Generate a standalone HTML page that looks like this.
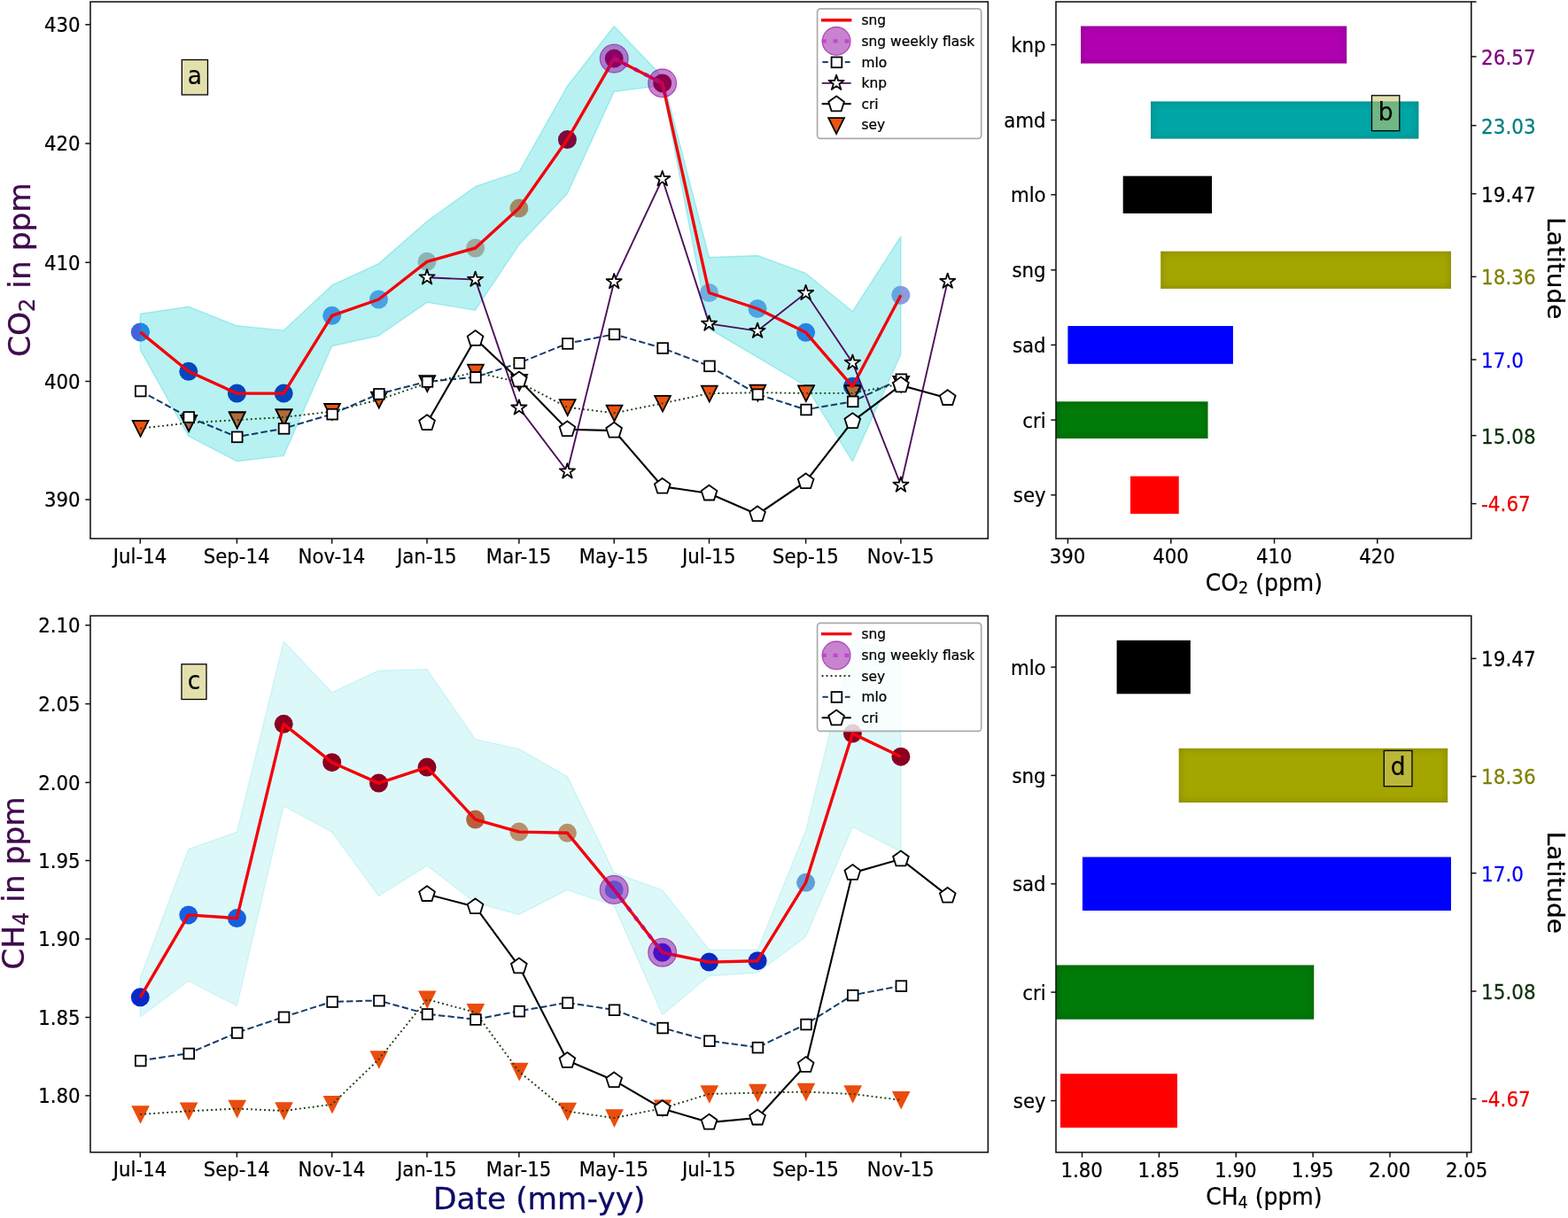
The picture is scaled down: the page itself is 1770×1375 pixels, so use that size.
<!DOCTYPE html>
<html lang="en">
<head>
<meta charset="utf-8">
<title>CO2 and CH4 time series</title>
<style>
html,body{margin:0;padding:0;background:#fff;}
body{width:1770px;height:1375px;overflow:hidden;}
svg{display:block;}
svg text{font-family:"DejaVu Sans", "Liberation Sans", sans-serif;}
</style>
</head>
<body>
<svg width="1770" height="1375" viewBox="0 0 1770 1375">
<defs>
<clipPath id="bandA"><polygon points="158.3,354.2 212.8,346.1 267.4,367.8 320.2,372.9 374.7,322.0 427.5,297.6 482.0,249.8 536.6,210.5 585.9,193.9 640.4,97.3 693.2,29.5 747.7,86.4 800.5,290.5 855.1,288.5 909.6,308.5 962.4,351.5 1016.9,266.8 1016.9,400.0 962.4,521.0 909.6,435.6 855.1,403.4 800.5,371.2 747.7,96.6 693.2,103.4 640.4,218.6 585.9,276.3 536.6,350.2 482.0,341.4 427.5,379.0 374.7,390.8 320.2,514.6 267.4,520.7 212.8,492.5 158.3,394.9"/></clipPath>
<clipPath id="haloA"><circle cx="693.2" cy="66.1" r="15.9"/><circle cx="747.7" cy="93.9" r="15.9"/></clipPath>
<clipPath id="bandC"><polygon points="158.3,1103.4 212.8,958.6 267.4,939.3 320.2,724.1 374.7,781.7 427.5,757.0 482.0,755.6 536.6,834.6 585.9,845.4 640.4,876.6 693.2,985.1 747.7,1004.7 800.5,1072.2 855.1,1072.2 909.6,937.6 962.4,722.4 1016.9,735.6 1016.9,961.4 962.4,933.6 909.6,1057.6 855.1,1098.3 800.5,1101.7 747.7,1145.8 693.2,1022.4 640.4,1004.7 585.9,1032.5 536.6,1019.0 482.0,977.3 427.5,1011.5 374.7,939.3 320.2,909.8 267.4,1135.6 212.8,1107.5 158.3,1148.1"/></clipPath>
<clipPath id="haloC"><circle cx="693.2" cy="1004.4" r="15.9"/><circle cx="747.7" cy="1075.3" r="15.9"/></clipPath>
<filter id="inner" x="-5%" y="-20%" width="110%" height="140%" color-interpolation-filters="sRGB"><feComponentTransfer in="SourceAlpha" result="inv"><feFuncA type="table" tableValues="1 0"/></feComponentTransfer><feGaussianBlur in="inv" stdDeviation="5" result="blur"/><feFlood flood-color="#000" flood-opacity="0.2" result="col"/><feComposite in="col" in2="blur" operator="in" result="shadow"/><feComposite in="shadow" in2="SourceAlpha" operator="in" result="clipped"/><feMerge><feMergeNode in="SourceGraphic"/><feMergeNode in="clipped"/></feMerge></filter>
<clipPath id="clipA"><rect x="102" y="2" width="1013.3" height="606.0"/></clipPath>
<clipPath id="clipC"><rect x="102" y="695.2" width="1013.3" height="605.6"/></clipPath>
</defs>
<rect width="1770" height="1375" fill="#ffffff"/>
<g clip-path="url(#clipA)">
<polygon points="158.3,354.2 212.8,346.1 267.4,367.8 320.2,372.9 374.7,322.0 427.5,297.6 482.0,249.8 536.6,210.5 585.9,193.9 640.4,97.3 693.2,29.5 747.7,86.4 800.5,290.5 855.1,288.5 909.6,308.5 962.4,351.5 1016.9,266.8 1016.9,400.0 962.4,521.0 909.6,435.6 855.1,403.4 800.5,371.2 747.7,96.6 693.2,103.4 640.4,218.6 585.9,276.3 536.6,350.2 482.0,341.4 427.5,379.0 374.7,390.8 320.2,514.6 267.4,520.7 212.8,492.5 158.3,394.9" fill="#00ced1" fill-opacity="0.28" stroke="#00ced1" stroke-opacity="0.28" stroke-width="1.4" stroke-linejoin="round"/>
<circle cx="693.2" cy="66.1" r="15.9" fill="#9208a0" fill-opacity="0.5" stroke="#9208a0" stroke-opacity="0.62" stroke-width="1.3"/>
<circle cx="747.7" cy="93.9" r="15.9" fill="#9208a0" fill-opacity="0.5" stroke="#9208a0" stroke-opacity="0.62" stroke-width="1.3"/>
<circle cx="158.3" cy="374.9" r="10.5" fill="#4064dc"/>
<g clip-path="url(#bandA)">
<circle cx="158.3" cy="374.9" r="10.5" fill="#2388e0"/>
</g>
<circle cx="212.8" cy="419.3" r="10.5" fill="#0548bb"/>
<circle cx="267.4" cy="444.1" r="10.5" fill="#0445bb"/>
<circle cx="320.2" cy="444.1" r="10.5" fill="#0445bb"/>
<circle cx="374.7" cy="356.3" r="10.5" fill="#3a98e2"/>
<circle cx="427.5" cy="338.0" r="10.5" fill="#4aa2e0"/>
<circle cx="482.0" cy="295.3" r="10.5" fill="#8ab4b2"/>
<circle cx="536.6" cy="280.0" r="10.5" fill="#9aaba0"/>
<circle cx="585.9" cy="235.1" r="10.5" fill="#a08a68"/>
<circle cx="640.4" cy="157.6" r="10.5" fill="#7c0a3c"/>
<circle cx="693.2" cy="66.1" r="10.5" fill="#8b0068"/>
<circle cx="747.7" cy="93.9" r="10.5" fill="#8b0050"/>
<circle cx="800.5" cy="330.5" r="10.5" fill="#6cb0e0"/>
<circle cx="855.1" cy="348.5" r="10.5" fill="#4ca4e2"/>
<circle cx="909.6" cy="375.3" r="10.5" fill="#2484e4"/>
<circle cx="962.4" cy="436.3" r="10.5" fill="#0a50d0"/>
<circle cx="1016.9" cy="333.2" r="10.5" fill="#8c9cdc"/>
<g clip-path="url(#bandA)">
<circle cx="1016.9" cy="333.2" r="10.5" fill="#62a8e0"/>
</g>
<polygon points="149.7,475.0 167.5,475.0 158.6,492.8" fill="#ee5312" stroke="#000" stroke-width="1.8" stroke-linejoin="miter"/>
<polygon points="204.2,468.9 222.0,468.9 213.1,486.7" fill="#ee5312" stroke="#000" stroke-width="1.8" stroke-linejoin="miter"/>
<polygon points="258.8,465.5 276.6,465.5 267.7,483.3" fill="#ee5312" stroke="#000" stroke-width="1.8" stroke-linejoin="miter"/>
<polygon points="311.6,462.4 329.4,462.4 320.5,480.2" fill="#ee5312" stroke="#000" stroke-width="1.8" stroke-linejoin="miter"/>
<polygon points="366.1,456.0 383.9,456.0 375.0,473.8" fill="#ee5312" stroke="#000" stroke-width="1.8" stroke-linejoin="miter"/>
<polygon points="418.9,442.7 436.7,442.7 427.8,460.5" fill="#ee5312" stroke="#000" stroke-width="1.8" stroke-linejoin="miter"/>
<polygon points="473.4,424.1 491.2,424.1 482.3,441.9" fill="#ee5312" stroke="#000" stroke-width="1.8" stroke-linejoin="miter"/>
<polygon points="528.0,411.6 545.8,411.6 536.9,429.4" fill="#ee5312" stroke="#000" stroke-width="1.8" stroke-linejoin="miter"/>
<polygon points="577.3,422.9 595.1,422.9 586.2,440.7" fill="#ee5312" stroke="#000" stroke-width="1.8" stroke-linejoin="miter"/>
<polygon points="631.8,451.2 649.6,451.2 640.7,469.0" fill="#ee5312" stroke="#000" stroke-width="1.8" stroke-linejoin="miter"/>
<polygon points="684.6,457.7 702.4,457.7 693.5,475.5" fill="#ee5312" stroke="#000" stroke-width="1.8" stroke-linejoin="miter"/>
<polygon points="739.1,446.8 756.9,446.8 748.0,464.6" fill="#ee5312" stroke="#000" stroke-width="1.8" stroke-linejoin="miter"/>
<polygon points="791.9,435.6 809.7,435.6 800.8,453.4" fill="#ee5312" stroke="#000" stroke-width="1.8" stroke-linejoin="miter"/>
<polygon points="846.5,434.6 864.3,434.6 855.4,452.4" fill="#ee5312" stroke="#000" stroke-width="1.8" stroke-linejoin="miter"/>
<polygon points="901.0,435.3 918.8,435.3 909.9,453.1" fill="#ee5312" stroke="#000" stroke-width="1.8" stroke-linejoin="miter"/>
<polygon points="953.8,435.3 971.6,435.3 962.7,453.1" fill="#ee5312" stroke="#000" stroke-width="1.8" stroke-linejoin="miter"/>
<polygon points="1008.3,424.8 1026.1,424.8 1017.2,442.6" fill="#ee5312" stroke="#000" stroke-width="1.8" stroke-linejoin="miter"/>
<g clip-path="url(#bandA)">
<polygon points="149.7,475.0 167.5,475.0 158.6,492.8" fill="#b26c3c" stroke="#000" stroke-width="1.8" stroke-linejoin="miter"/>
<polygon points="204.2,468.9 222.0,468.9 213.1,486.7" fill="#b26c3c" stroke="#000" stroke-width="1.8" stroke-linejoin="miter"/>
<polygon points="258.8,465.5 276.6,465.5 267.7,483.3" fill="#b26c3c" stroke="#000" stroke-width="1.8" stroke-linejoin="miter"/>
<polygon points="311.6,462.4 329.4,462.4 320.5,480.2" fill="#b26c3c" stroke="#000" stroke-width="1.8" stroke-linejoin="miter"/>
<polygon points="366.1,456.0 383.9,456.0 375.0,473.8" fill="#b26c3c" stroke="#000" stroke-width="1.8" stroke-linejoin="miter"/>
<polygon points="418.9,442.7 436.7,442.7 427.8,460.5" fill="#b26c3c" stroke="#000" stroke-width="1.8" stroke-linejoin="miter"/>
<polygon points="473.4,424.1 491.2,424.1 482.3,441.9" fill="#b26c3c" stroke="#000" stroke-width="1.8" stroke-linejoin="miter"/>
<polygon points="528.0,411.6 545.8,411.6 536.9,429.4" fill="#b26c3c" stroke="#000" stroke-width="1.8" stroke-linejoin="miter"/>
<polygon points="577.3,422.9 595.1,422.9 586.2,440.7" fill="#b26c3c" stroke="#000" stroke-width="1.8" stroke-linejoin="miter"/>
<polygon points="631.8,451.2 649.6,451.2 640.7,469.0" fill="#b26c3c" stroke="#000" stroke-width="1.8" stroke-linejoin="miter"/>
<polygon points="684.6,457.7 702.4,457.7 693.5,475.5" fill="#b26c3c" stroke="#000" stroke-width="1.8" stroke-linejoin="miter"/>
<polygon points="739.1,446.8 756.9,446.8 748.0,464.6" fill="#b26c3c" stroke="#000" stroke-width="1.8" stroke-linejoin="miter"/>
<polygon points="791.9,435.6 809.7,435.6 800.8,453.4" fill="#b26c3c" stroke="#000" stroke-width="1.8" stroke-linejoin="miter"/>
<polygon points="846.5,434.6 864.3,434.6 855.4,452.4" fill="#b26c3c" stroke="#000" stroke-width="1.8" stroke-linejoin="miter"/>
<polygon points="901.0,435.3 918.8,435.3 909.9,453.1" fill="#b26c3c" stroke="#000" stroke-width="1.8" stroke-linejoin="miter"/>
<polygon points="953.8,435.3 971.6,435.3 962.7,453.1" fill="#b26c3c" stroke="#000" stroke-width="1.8" stroke-linejoin="miter"/>
<polygon points="1008.3,424.8 1026.1,424.8 1017.2,442.6" fill="#b26c3c" stroke="#000" stroke-width="1.8" stroke-linejoin="miter"/>
</g>
<polyline points="693.2,66.1 747.7,93.9" fill="none" stroke="#c03cd0" stroke-width="4.4" stroke-dasharray="5 7.8" stroke-opacity="0.85"/>
<polyline points="158.3,374.9 212.8,419.3 267.4,444.1 320.2,444.1 374.7,356.3 427.5,338.0 482.0,295.3 536.6,280.0 585.9,235.1 640.4,157.6 693.2,66.1 747.7,93.9 800.5,330.5 855.1,348.5 909.6,375.3 962.4,436.3 1016.9,333.2" fill="none" stroke="#f4000a" stroke-width="3.4" stroke-linejoin="round"/>
<g clip-path="url(#haloA)">
<polyline points="640.4,157.6 693.2,66.1 747.7,93.9 800.5,330.5" fill="none" stroke="#c30455" stroke-width="3.4" stroke-linejoin="round"/>
</g>
<polyline points="693.2,66.1 747.7,93.9" fill="none" stroke="#a010b0" stroke-width="3.6" stroke-dasharray="5 7.8" stroke-opacity="0.5"/>
<polyline points="158.3,483.6 212.8,477.5 267.4,474.1 320.2,471.0 374.7,464.6 427.5,451.3 482.0,432.7 536.6,420.2 585.9,431.5 640.4,459.8 693.2,466.3 747.7,455.4 800.5,444.2 855.1,443.2 909.6,443.9 962.4,443.9 1016.9,433.4" fill="none" stroke="#143f0c" stroke-width="1.9" stroke-dasharray="1.9 3.1"/>
<polyline points="158.3,441.4 212.8,470.8 267.4,493.2 320.2,483.7 374.7,467.5 427.5,444.7 482.0,430.8 536.6,425.8 585.9,409.8 640.4,387.8 693.2,377.3 747.7,392.9 800.5,413.2 855.1,445.1 909.6,462.4 962.4,453.2 1016.9,428.1" fill="none" stroke="#123c6a" stroke-width="2.0" stroke-dasharray="7.4 3.2"/>
<rect x="152.9" y="435.7" width="11.7" height="11.7" fill="#fff" stroke="#000" stroke-width="1.8"/>
<rect x="207.4" y="465.1" width="11.7" height="11.7" fill="#fff" stroke="#000" stroke-width="1.8"/>
<rect x="261.9" y="487.5" width="11.7" height="11.7" fill="#fff" stroke="#000" stroke-width="1.8"/>
<rect x="314.7" y="478.0" width="11.7" height="11.7" fill="#fff" stroke="#000" stroke-width="1.8"/>
<rect x="369.3" y="461.8" width="11.7" height="11.7" fill="#fff" stroke="#000" stroke-width="1.8"/>
<rect x="422.1" y="439.0" width="11.7" height="11.7" fill="#fff" stroke="#000" stroke-width="1.8"/>
<rect x="476.6" y="425.1" width="11.7" height="11.7" fill="#fff" stroke="#000" stroke-width="1.8"/>
<rect x="531.1" y="420.1" width="11.7" height="11.7" fill="#fff" stroke="#000" stroke-width="1.8"/>
<rect x="580.4" y="404.1" width="11.7" height="11.7" fill="#fff" stroke="#000" stroke-width="1.8"/>
<rect x="635.0" y="382.1" width="11.7" height="11.7" fill="#fff" stroke="#000" stroke-width="1.8"/>
<rect x="687.7" y="371.6" width="11.7" height="11.7" fill="#fff" stroke="#000" stroke-width="1.8"/>
<rect x="742.3" y="387.2" width="11.7" height="11.7" fill="#fff" stroke="#000" stroke-width="1.8"/>
<rect x="795.1" y="407.5" width="11.7" height="11.7" fill="#fff" stroke="#000" stroke-width="1.8"/>
<rect x="849.6" y="439.4" width="11.7" height="11.7" fill="#fff" stroke="#000" stroke-width="1.8"/>
<rect x="904.2" y="456.7" width="11.7" height="11.7" fill="#fff" stroke="#000" stroke-width="1.8"/>
<rect x="956.9" y="447.5" width="11.7" height="11.7" fill="#fff" stroke="#000" stroke-width="1.8"/>
<rect x="1011.5" y="422.4" width="11.7" height="11.7" fill="#fff" stroke="#000" stroke-width="1.8"/>
<polyline points="482.0,313.2 536.6,315.6 585.9,460.3 640.4,532.2 693.2,318.0 747.7,202.0 800.5,365.4 855.1,373.6 909.6,330.8 962.4,409.5 1016.9,547.5 1069.7,317.6" fill="none" stroke="#4c0e5c" stroke-width="1.9"/>
<polygon points="482.0,304.2 484.1,310.4 490.6,310.4 485.3,314.3 487.3,320.5 482.0,316.6 476.8,320.5 478.8,314.3 473.5,310.4 480.0,310.4" stroke-linejoin="round" fill="#fff" stroke="#000" stroke-width="1.8"/>
<polygon points="536.6,306.6 538.6,312.8 545.2,312.8 539.9,316.7 541.9,322.9 536.6,319.0 531.3,322.9 533.3,316.7 528.0,312.8 534.6,312.8" stroke-linejoin="round" fill="#fff" stroke="#000" stroke-width="1.8"/>
<polygon points="585.9,451.3 587.9,457.5 594.4,457.5 589.1,461.4 591.1,467.6 585.9,463.7 580.6,467.6 582.6,461.4 577.3,457.5 583.8,457.5" stroke-linejoin="round" fill="#fff" stroke="#000" stroke-width="1.8"/>
<polygon points="640.4,523.2 642.4,529.4 649.0,529.4 643.7,533.3 645.7,539.5 640.4,535.6 635.1,539.5 637.1,533.3 631.8,529.4 638.4,529.4" stroke-linejoin="round" fill="#fff" stroke="#000" stroke-width="1.8"/>
<polygon points="693.2,309.0 695.2,315.2 701.7,315.2 696.5,319.1 698.5,325.3 693.2,321.4 687.9,325.3 689.9,319.1 684.6,315.2 691.2,315.2" stroke-linejoin="round" fill="#fff" stroke="#000" stroke-width="1.8"/>
<polygon points="747.7,193.0 749.8,199.2 756.3,199.2 751.0,203.1 753.0,209.3 747.7,205.4 742.4,209.3 744.5,203.1 739.2,199.2 745.7,199.2" stroke-linejoin="round" fill="#fff" stroke="#000" stroke-width="1.8"/>
<polygon points="800.5,356.4 802.5,362.6 809.1,362.6 803.8,366.5 805.8,372.7 800.5,368.8 795.2,372.7 797.2,366.5 792.0,362.6 798.5,362.6" stroke-linejoin="round" fill="#fff" stroke="#000" stroke-width="1.8"/>
<polygon points="855.1,364.6 857.1,370.8 863.6,370.8 858.3,374.7 860.4,380.9 855.1,377.0 849.8,380.9 851.8,374.7 846.5,370.8 853.0,370.8" stroke-linejoin="round" fill="#fff" stroke="#000" stroke-width="1.8"/>
<polygon points="909.6,321.8 911.6,328.0 918.2,328.0 912.9,331.9 914.9,338.1 909.6,334.2 904.3,338.1 906.3,331.9 901.0,328.0 907.6,328.0" stroke-linejoin="round" fill="#fff" stroke="#000" stroke-width="1.8"/>
<polygon points="962.4,400.5 964.4,406.7 971.0,406.7 965.7,410.6 967.7,416.8 962.4,412.9 957.1,416.8 959.1,410.6 953.8,406.7 960.4,406.7" stroke-linejoin="round" fill="#fff" stroke="#000" stroke-width="1.8"/>
<polygon points="1016.9,538.5 1019.0,544.7 1025.5,544.7 1020.2,548.6 1022.2,554.8 1016.9,550.9 1011.6,554.8 1013.7,548.6 1008.4,544.7 1014.9,544.7" stroke-linejoin="round" fill="#fff" stroke="#000" stroke-width="1.8"/>
<polygon points="1069.7,308.6 1071.7,314.8 1078.3,314.8 1073.0,318.7 1075.0,324.9 1069.7,321.0 1064.4,324.9 1066.5,318.7 1061.2,314.8 1067.7,314.8" stroke-linejoin="round" fill="#fff" stroke="#000" stroke-width="1.8"/>
<polyline points="482.0,477.6 536.6,382.4 585.9,428.8 640.4,484.7 693.2,486.1 747.7,549.2 800.5,557.0 855.1,580.7 909.6,543.7 962.4,475.6 1016.9,434.9 1069.7,449.5" fill="none" stroke="#000" stroke-width="2.1"/>
<polygon points="482.0,468.3 490.9,474.7 487.5,485.1 476.6,485.1 473.2,474.7" stroke-linejoin="miter" fill="#fff" stroke="#000" stroke-width="1.8"/>
<polygon points="536.6,373.1 545.4,379.5 542.1,389.9 531.1,389.9 527.7,379.5" stroke-linejoin="miter" fill="#fff" stroke="#000" stroke-width="1.8"/>
<polygon points="585.9,419.5 594.7,425.9 591.3,436.3 580.4,436.3 577.0,425.9" stroke-linejoin="miter" fill="#fff" stroke="#000" stroke-width="1.8"/>
<polygon points="640.4,475.4 649.2,481.8 645.9,492.2 634.9,492.2 631.6,481.8" stroke-linejoin="miter" fill="#fff" stroke="#000" stroke-width="1.8"/>
<polygon points="693.2,476.8 702.0,483.2 698.7,493.6 687.7,493.6 684.3,483.2" stroke-linejoin="miter" fill="#fff" stroke="#000" stroke-width="1.8"/>
<polygon points="747.7,539.9 756.6,546.3 753.2,556.7 742.3,556.7 738.9,546.3" stroke-linejoin="miter" fill="#fff" stroke="#000" stroke-width="1.8"/>
<polygon points="800.5,547.7 809.4,554.1 806.0,564.5 795.1,564.5 791.7,554.1" stroke-linejoin="miter" fill="#fff" stroke="#000" stroke-width="1.8"/>
<polygon points="855.1,571.4 863.9,577.8 860.5,588.2 849.6,588.2 846.2,577.8" stroke-linejoin="miter" fill="#fff" stroke="#000" stroke-width="1.8"/>
<polygon points="909.6,534.4 918.5,540.8 915.1,551.2 904.1,551.2 900.8,540.8" stroke-linejoin="miter" fill="#fff" stroke="#000" stroke-width="1.8"/>
<polygon points="962.4,466.3 971.2,472.7 967.9,483.1 956.9,483.1 953.5,472.7" stroke-linejoin="miter" fill="#fff" stroke="#000" stroke-width="1.8"/>
<polygon points="1016.9,425.6 1025.8,432.0 1022.4,442.4 1011.5,442.4 1008.1,432.0" stroke-linejoin="miter" fill="#fff" stroke="#000" stroke-width="1.8"/>
<polygon points="1069.7,440.2 1078.6,446.6 1075.2,457.0 1064.3,457.0 1060.9,446.6" stroke-linejoin="miter" fill="#fff" stroke="#000" stroke-width="1.8"/>
</g>
<rect x="102" y="2" width="1013.3" height="606.0" fill="none" stroke="#111111" stroke-width="1.55"/>
<line x1="158.3" y1="608.0" x2="158.3" y2="613.7" stroke="#111111" stroke-width="1.5"/>
<text transform="translate(158.00 635.60) scale(0.91 1)" font-size="23.4" text-anchor="middle" fill="#000" stroke="#000" stroke-width="0.25">Jul-14</text>
<line x1="267.4" y1="608.0" x2="267.4" y2="613.7" stroke="#111111" stroke-width="1.5"/>
<text transform="translate(267.09 635.60) scale(0.91 1)" font-size="23.4" text-anchor="middle" fill="#000" stroke="#000" stroke-width="0.25">Sep-14</text>
<line x1="374.7" y1="608.0" x2="374.7" y2="613.7" stroke="#111111" stroke-width="1.5"/>
<text transform="translate(374.42 635.60) scale(0.91 1)" font-size="23.4" text-anchor="middle" fill="#000" stroke="#000" stroke-width="0.25">Nov-14</text>
<line x1="482.0" y1="608.0" x2="482.0" y2="613.7" stroke="#111111" stroke-width="1.5"/>
<text transform="translate(481.75 635.60) scale(0.91 1)" font-size="23.4" text-anchor="middle" fill="#000" stroke="#000" stroke-width="0.25">Jan-15</text>
<line x1="585.9" y1="608.0" x2="585.9" y2="613.7" stroke="#111111" stroke-width="1.5"/>
<text transform="translate(585.56 635.60) scale(0.91 1)" font-size="23.4" text-anchor="middle" fill="#000" stroke="#000" stroke-width="0.25">Mar-15</text>
<line x1="693.2" y1="608.0" x2="693.2" y2="613.7" stroke="#111111" stroke-width="1.5"/>
<text transform="translate(692.89 635.60) scale(0.91 1)" font-size="23.4" text-anchor="middle" fill="#000" stroke="#000" stroke-width="0.25">May-15</text>
<line x1="800.5" y1="608.0" x2="800.5" y2="613.7" stroke="#111111" stroke-width="1.5"/>
<text transform="translate(800.22 635.60) scale(0.91 1)" font-size="23.4" text-anchor="middle" fill="#000" stroke="#000" stroke-width="0.25">Jul-15</text>
<line x1="909.6" y1="608.0" x2="909.6" y2="613.7" stroke="#111111" stroke-width="1.5"/>
<text transform="translate(909.31 635.60) scale(0.91 1)" font-size="23.4" text-anchor="middle" fill="#000" stroke="#000" stroke-width="0.25">Sep-15</text>
<line x1="1016.9" y1="608.0" x2="1016.9" y2="613.7" stroke="#111111" stroke-width="1.5"/>
<text transform="translate(1016.64 635.60) scale(0.91 1)" font-size="23.4" text-anchor="middle" fill="#000" stroke="#000" stroke-width="0.25">Nov-15</text>
<line x1="96.3" y1="27.8" x2="102" y2="27.8" stroke="#111111" stroke-width="1.5"/>
<text transform="translate(90.60 36.20) scale(0.91 1)" font-size="23.4" text-anchor="end" fill="#000" stroke="#000" stroke-width="0.25">430</text>
<line x1="96.3" y1="162.0" x2="102" y2="162.0" stroke="#111111" stroke-width="1.5"/>
<text transform="translate(90.60 170.40) scale(0.91 1)" font-size="23.4" text-anchor="end" fill="#000" stroke="#000" stroke-width="0.25">420</text>
<line x1="96.3" y1="296.3" x2="102" y2="296.3" stroke="#111111" stroke-width="1.5"/>
<text transform="translate(90.60 304.70) scale(0.91 1)" font-size="23.4" text-anchor="end" fill="#000" stroke="#000" stroke-width="0.25">410</text>
<line x1="96.3" y1="430.5" x2="102" y2="430.5" stroke="#111111" stroke-width="1.5"/>
<text transform="translate(90.60 438.90) scale(0.91 1)" font-size="23.4" text-anchor="end" fill="#000" stroke="#000" stroke-width="0.25">400</text>
<line x1="96.3" y1="564.0" x2="102" y2="564.0" stroke="#111111" stroke-width="1.5"/>
<text transform="translate(90.60 572.40) scale(0.91 1)" font-size="23.4" text-anchor="end" fill="#000" stroke="#000" stroke-width="0.25">390</text>
<text transform="translate(33.60 304.60) rotate(-90)" font-size="34.4" text-anchor="middle" fill="#3f0a4c" stroke="#3f0a4c" stroke-width="0.3">CO<tspan font-size="24.1" dy="5.5">2</tspan><tspan dy="-5.5"> in ppm</tspan></text>
<rect x="205.3" y="67.5" width="29.2" height="39.5" fill="#ccc76c" fill-opacity="0.55" stroke="#000" stroke-width="1.3"/>
<text transform="translate(219.90 95.15) scale(0.96 1)" font-size="27.6" text-anchor="middle" fill="#000" stroke="#000" stroke-width="0.2">a</text>
<rect x="922.6" y="9.8" width="185.1" height="146.5" rx="3.5" ry="3.5" fill="#fff" fill-opacity="0.8" stroke="#ababab" stroke-width="1.7"/>
<polyline points="928.7,22.7 959.7,22.7" fill="none" stroke-linecap="square" stroke="#f4000a" stroke-width="3.4"/>
<text transform="translate(972.50 28.35) scale(0.955 1)" font-size="16.2" text-anchor="start" fill="#000" stroke="#000" stroke-width="0.25">sng</text>
<circle cx="944.1" cy="46.4" r="15.9" fill="#9208a0" fill-opacity="0.5" stroke="#9208a0" stroke-opacity="0.62" stroke-width="1.3"/>
<polyline points="927.8,46.4 961.5,46.4" fill="none" stroke="#c03cd0" stroke-width="4.4" stroke-dasharray="5 7.8" stroke-opacity="0.85"/>
<text transform="translate(972.50 51.85) scale(0.955 1)" font-size="16.2" text-anchor="start" fill="#000" stroke="#000" stroke-width="0.25">sng weekly flask</text>
<polyline points="928.4,70.1 934.8,70.1" fill="none" stroke="#123c6a" stroke-width="2.0"/>
<polyline points="953.8,70.1 959.6,70.1" fill="none" stroke="#123c6a" stroke-width="2.0"/>
<rect x="938.6" y="64.5" width="11.7" height="11.7" fill="#fff" stroke="#000" stroke-width="1.8"/>
<text transform="translate(972.50 75.75) scale(0.955 1)" font-size="16.2" text-anchor="start" fill="#000" stroke="#000" stroke-width="0.25">mlo</text>
<polyline points="928.7,93.9 959.7,93.9" fill="none" stroke-linecap="square" stroke="#4c0e5c" stroke-width="1.9"/>
<polygon points="944.1,84.7 946.1,90.9 952.7,90.9 947.4,94.8 949.4,101.0 944.1,97.1 938.8,101.0 940.8,94.8 935.5,90.9 942.1,90.9" stroke-linejoin="round" fill="#fff" stroke="#000" stroke-width="1.8"/>
<text transform="translate(972.50 99.35) scale(0.955 1)" font-size="16.2" text-anchor="start" fill="#000" stroke="#000" stroke-width="0.25">knp</text>
<polyline points="928.7,117.2 959.7,117.2" fill="none" stroke-linecap="square" stroke="#000" stroke-width="2.1"/>
<polygon points="944.1,108.5 952.9,114.9 949.6,125.3 938.6,125.3 935.3,114.9" stroke-linejoin="miter" fill="#fff" stroke="#000" stroke-width="1.8"/>
<text transform="translate(972.50 122.85) scale(0.955 1)" font-size="16.2" text-anchor="start" fill="#000" stroke="#000" stroke-width="0.25">cri</text>
<polygon points="935.2,133.1 953.0,133.1 944.1,150.9" fill="#ee5312" stroke="#000" stroke-width="1.8"/>
<text transform="translate(972.50 146.25) scale(0.955 1)" font-size="16.2" text-anchor="start" fill="#000" stroke="#000" stroke-width="0.25">sey</text>
<g clip-path="url(#clipC)">
<polygon points="158.3,1103.4 212.8,958.6 267.4,939.3 320.2,724.1 374.7,781.7 427.5,757.0 482.0,755.6 536.6,834.6 585.9,845.4 640.4,876.6 693.2,985.1 747.7,1004.7 800.5,1072.2 855.1,1072.2 909.6,937.6 962.4,722.4 1016.9,735.6 1016.9,961.4 962.4,933.6 909.6,1057.6 855.1,1098.3 800.5,1101.7 747.7,1145.8 693.2,1022.4 640.4,1004.7 585.9,1032.5 536.6,1019.0 482.0,977.3 427.5,1011.5 374.7,939.3 320.2,909.8 267.4,1135.6 212.8,1107.5 158.3,1148.1" fill="#00ced1" fill-opacity="0.135" stroke="#00ced1" stroke-opacity="0.135" stroke-width="1.4" stroke-linejoin="round"/>
<circle cx="693.2" cy="1004.4" r="15.9" fill="#9208a0" fill-opacity="0.5" stroke="#9208a0" stroke-opacity="0.62" stroke-width="1.3"/>
<circle cx="747.7" cy="1075.3" r="15.9" fill="#9208a0" fill-opacity="0.5" stroke="#9208a0" stroke-opacity="0.62" stroke-width="1.3"/>
<circle cx="158.3" cy="1125.8" r="10.5" fill="#0a28c8"/>
<circle cx="212.8" cy="1032.9" r="10.5" fill="#1460e0"/>
<circle cx="267.4" cy="1036.6" r="10.5" fill="#1460e0"/>
<circle cx="320.2" cy="817.3" r="10.5" fill="#8b0020"/>
<circle cx="374.7" cy="860.7" r="10.5" fill="#8b0020"/>
<circle cx="427.5" cy="884.1" r="10.5" fill="#8b0020"/>
<circle cx="482.0" cy="866.1" r="10.5" fill="#8b0020"/>
<circle cx="536.6" cy="925.1" r="10.5" fill="#b8603c"/>
<circle cx="585.9" cy="939.1" r="10.5" fill="#b8906c"/>
<circle cx="640.4" cy="940.3" r="10.5" fill="#b8906c"/>
<circle cx="693.2" cy="1004.4" r="10.5" fill="#6a50d0"/>
<circle cx="747.7" cy="1075.3" r="10.5" fill="#4a10c8"/>
<circle cx="800.5" cy="1086.1" r="10.5" fill="#0a28c0"/>
<circle cx="855.1" cy="1084.7" r="10.5" fill="#0a28c0"/>
<circle cx="909.6" cy="996.3" r="10.5" fill="#60a0d8"/>
<circle cx="962.4" cy="828.1" r="10.5" fill="#8b0020"/>
<circle cx="1016.9" cy="854.2" r="10.5" fill="#8b0020"/>
<polyline points="693.2,1004.4 747.7,1075.3" fill="none" stroke="#c03cd0" stroke-width="4.4" stroke-dasharray="5 7.8" stroke-opacity="0.85"/>
<polyline points="158.3,1125.8 212.8,1032.9 267.4,1036.6 320.2,817.3 374.7,860.7 427.5,884.1 482.0,866.1 536.6,925.1 585.9,939.1 640.4,940.3 693.2,1004.4 747.7,1075.3 800.5,1086.1 855.1,1084.7 909.6,996.3 962.4,828.1 1016.9,854.2" fill="none" stroke="#f4000a" stroke-width="3.4" stroke-linejoin="round"/>
<g clip-path="url(#haloC)">
<polyline points="640.4,940.3 693.2,1004.4 747.7,1075.3 800.5,1086.1" fill="none" stroke="#c30455" stroke-width="3.4" stroke-linejoin="round"/>
</g>
<polyline points="693.2,1004.4 747.7,1075.3" fill="none" stroke="#a010b0" stroke-width="3.6" stroke-dasharray="5 7.8" stroke-opacity="0.5"/>
<polygon points="148.3,1248.2 168.9,1248.2 158.6,1268.8" fill="#ea4d0e"/>
<polygon points="202.8,1244.5 223.4,1244.5 213.1,1265.1" fill="#ea4d0e"/>
<polygon points="257.4,1241.8 278.0,1241.8 267.7,1262.4" fill="#ea4d0e"/>
<polygon points="310.2,1244.2 330.8,1244.2 320.5,1264.8" fill="#ea4d0e"/>
<polygon points="364.7,1237.0 385.3,1237.0 375.0,1257.6" fill="#ea4d0e"/>
<polygon points="417.5,1186.2 438.1,1186.2 427.8,1206.8" fill="#ea4d0e"/>
<polygon points="472.0,1118.4 492.6,1118.4 482.3,1139.0" fill="#ea4d0e"/>
<polygon points="526.6,1133.0 547.2,1133.0 536.9,1153.6" fill="#ea4d0e"/>
<polygon points="575.9,1199.8 596.5,1199.8 586.2,1220.4" fill="#ea4d0e"/>
<polygon points="630.4,1244.8 651.0,1244.8 640.7,1265.4" fill="#ea4d0e"/>
<polygon points="683.2,1252.3 703.8,1252.3 693.5,1272.9" fill="#ea4d0e"/>
<polygon points="737.7,1241.4 758.3,1241.4 748.0,1262.0" fill="#ea4d0e"/>
<polygon points="790.5,1225.2 811.1,1225.2 800.8,1245.8" fill="#ea4d0e"/>
<polygon points="845.1,1223.8 865.7,1223.8 855.4,1244.4" fill="#ea4d0e"/>
<polygon points="899.6,1222.8 920.2,1222.8 909.9,1243.4" fill="#ea4d0e"/>
<polygon points="952.4,1225.2 973.0,1225.2 962.7,1245.8" fill="#ea4d0e"/>
<polygon points="1006.9,1232.0 1027.5,1232.0 1017.2,1252.6" fill="#ea4d0e"/>
<polyline points="158.3,1258.0 212.8,1254.3 267.4,1251.6 320.2,1254.0 374.7,1246.8 427.5,1196.0 482.0,1128.2 536.6,1142.8 585.9,1209.6 640.4,1254.6 693.2,1262.1 747.7,1251.2 800.5,1235.0 855.1,1233.6 909.6,1232.6 962.4,1235.0 1016.9,1241.8" fill="none" stroke="#143f0c" stroke-width="1.9" stroke-dasharray="1.9 3.1"/>
<polyline points="158.3,1197.3 212.8,1189.2 267.4,1165.8 320.2,1148.1 374.7,1130.8 427.5,1129.5 482.0,1144.7 536.6,1150.8 585.9,1141.4 640.4,1131.9 693.2,1140.0 747.7,1160.3 800.5,1174.9 855.1,1182.4 909.6,1156.3 962.4,1123.4 1016.9,1112.9" fill="none" stroke="#123c6a" stroke-width="2.0" stroke-dasharray="7.4 3.2"/>
<rect x="152.9" y="1191.7" width="11.7" height="11.7" fill="#fff" stroke="#000" stroke-width="1.8"/>
<rect x="207.4" y="1183.6" width="11.7" height="11.7" fill="#fff" stroke="#000" stroke-width="1.8"/>
<rect x="261.9" y="1160.2" width="11.7" height="11.7" fill="#fff" stroke="#000" stroke-width="1.8"/>
<rect x="314.7" y="1142.5" width="11.7" height="11.7" fill="#fff" stroke="#000" stroke-width="1.8"/>
<rect x="369.3" y="1125.2" width="11.7" height="11.7" fill="#fff" stroke="#000" stroke-width="1.8"/>
<rect x="422.1" y="1123.9" width="11.7" height="11.7" fill="#fff" stroke="#000" stroke-width="1.8"/>
<rect x="476.6" y="1139.1" width="11.7" height="11.7" fill="#fff" stroke="#000" stroke-width="1.8"/>
<rect x="531.1" y="1145.2" width="11.7" height="11.7" fill="#fff" stroke="#000" stroke-width="1.8"/>
<rect x="580.4" y="1135.8" width="11.7" height="11.7" fill="#fff" stroke="#000" stroke-width="1.8"/>
<rect x="635.0" y="1126.3" width="11.7" height="11.7" fill="#fff" stroke="#000" stroke-width="1.8"/>
<rect x="687.7" y="1134.4" width="11.7" height="11.7" fill="#fff" stroke="#000" stroke-width="1.8"/>
<rect x="742.3" y="1154.7" width="11.7" height="11.7" fill="#fff" stroke="#000" stroke-width="1.8"/>
<rect x="795.1" y="1169.3" width="11.7" height="11.7" fill="#fff" stroke="#000" stroke-width="1.8"/>
<rect x="849.6" y="1176.8" width="11.7" height="11.7" fill="#fff" stroke="#000" stroke-width="1.8"/>
<rect x="904.2" y="1150.7" width="11.7" height="11.7" fill="#fff" stroke="#000" stroke-width="1.8"/>
<rect x="956.9" y="1117.8" width="11.7" height="11.7" fill="#fff" stroke="#000" stroke-width="1.8"/>
<rect x="1011.5" y="1107.3" width="11.7" height="11.7" fill="#fff" stroke="#000" stroke-width="1.8"/>
<polyline points="482.0,1009.5 536.6,1023.7 585.9,1090.8 640.4,1197.3 693.2,1219.7 747.7,1251.5 800.5,1267.1 855.1,1262.0 909.6,1202.4 962.4,985.4 1016.9,969.8 1069.7,1011.2" fill="none" stroke="#000" stroke-width="2.1"/>
<polygon points="482.0,1000.2 490.9,1006.6 487.5,1017.0 476.6,1017.0 473.2,1006.6" stroke-linejoin="miter" fill="#fff" stroke="#000" stroke-width="1.8"/>
<polygon points="536.6,1014.4 545.4,1020.8 542.1,1031.2 531.1,1031.2 527.7,1020.8" stroke-linejoin="miter" fill="#fff" stroke="#000" stroke-width="1.8"/>
<polygon points="585.9,1081.5 594.7,1087.9 591.3,1098.3 580.4,1098.3 577.0,1087.9" stroke-linejoin="miter" fill="#fff" stroke="#000" stroke-width="1.8"/>
<polygon points="640.4,1188.0 649.2,1194.4 645.9,1204.8 634.9,1204.8 631.6,1194.4" stroke-linejoin="miter" fill="#fff" stroke="#000" stroke-width="1.8"/>
<polygon points="693.2,1210.4 702.0,1216.8 698.7,1227.2 687.7,1227.2 684.3,1216.8" stroke-linejoin="miter" fill="#fff" stroke="#000" stroke-width="1.8"/>
<polygon points="747.7,1242.2 756.6,1248.6 753.2,1259.0 742.3,1259.0 738.9,1248.6" stroke-linejoin="miter" fill="#fff" stroke="#000" stroke-width="1.8"/>
<polygon points="800.5,1257.8 809.4,1264.2 806.0,1274.6 795.1,1274.6 791.7,1264.2" stroke-linejoin="miter" fill="#fff" stroke="#000" stroke-width="1.8"/>
<polygon points="855.1,1252.7 863.9,1259.1 860.5,1269.5 849.6,1269.5 846.2,1259.1" stroke-linejoin="miter" fill="#fff" stroke="#000" stroke-width="1.8"/>
<polygon points="909.6,1193.1 918.5,1199.5 915.1,1209.9 904.1,1209.9 900.8,1199.5" stroke-linejoin="miter" fill="#fff" stroke="#000" stroke-width="1.8"/>
<polygon points="962.4,976.1 971.2,982.5 967.9,992.9 956.9,992.9 953.5,982.5" stroke-linejoin="miter" fill="#fff" stroke="#000" stroke-width="1.8"/>
<polygon points="1016.9,960.5 1025.8,966.9 1022.4,977.3 1011.5,977.3 1008.1,966.9" stroke-linejoin="miter" fill="#fff" stroke="#000" stroke-width="1.8"/>
<polygon points="1069.7,1001.9 1078.6,1008.3 1075.2,1018.7 1064.3,1018.7 1060.9,1008.3" stroke-linejoin="miter" fill="#fff" stroke="#000" stroke-width="1.8"/>
</g>
<rect x="102" y="695.2" width="1013.3" height="605.6" fill="none" stroke="#111111" stroke-width="1.55"/>
<line x1="158.3" y1="1300.8" x2="158.3" y2="1306.5" stroke="#111111" stroke-width="1.5"/>
<text transform="translate(158.00 1328.00) scale(0.91 1)" font-size="23.4" text-anchor="middle" fill="#000" stroke="#000" stroke-width="0.25">Jul-14</text>
<line x1="267.4" y1="1300.8" x2="267.4" y2="1306.5" stroke="#111111" stroke-width="1.5"/>
<text transform="translate(267.09 1328.00) scale(0.91 1)" font-size="23.4" text-anchor="middle" fill="#000" stroke="#000" stroke-width="0.25">Sep-14</text>
<line x1="374.7" y1="1300.8" x2="374.7" y2="1306.5" stroke="#111111" stroke-width="1.5"/>
<text transform="translate(374.42 1328.00) scale(0.91 1)" font-size="23.4" text-anchor="middle" fill="#000" stroke="#000" stroke-width="0.25">Nov-14</text>
<line x1="482.0" y1="1300.8" x2="482.0" y2="1306.5" stroke="#111111" stroke-width="1.5"/>
<text transform="translate(481.75 1328.00) scale(0.91 1)" font-size="23.4" text-anchor="middle" fill="#000" stroke="#000" stroke-width="0.25">Jan-15</text>
<line x1="585.9" y1="1300.8" x2="585.9" y2="1306.5" stroke="#111111" stroke-width="1.5"/>
<text transform="translate(585.56 1328.00) scale(0.91 1)" font-size="23.4" text-anchor="middle" fill="#000" stroke="#000" stroke-width="0.25">Mar-15</text>
<line x1="693.2" y1="1300.8" x2="693.2" y2="1306.5" stroke="#111111" stroke-width="1.5"/>
<text transform="translate(692.89 1328.00) scale(0.91 1)" font-size="23.4" text-anchor="middle" fill="#000" stroke="#000" stroke-width="0.25">May-15</text>
<line x1="800.5" y1="1300.8" x2="800.5" y2="1306.5" stroke="#111111" stroke-width="1.5"/>
<text transform="translate(800.22 1328.00) scale(0.91 1)" font-size="23.4" text-anchor="middle" fill="#000" stroke="#000" stroke-width="0.25">Jul-15</text>
<line x1="909.6" y1="1300.8" x2="909.6" y2="1306.5" stroke="#111111" stroke-width="1.5"/>
<text transform="translate(909.31 1328.00) scale(0.91 1)" font-size="23.4" text-anchor="middle" fill="#000" stroke="#000" stroke-width="0.25">Sep-15</text>
<line x1="1016.9" y1="1300.8" x2="1016.9" y2="1306.5" stroke="#111111" stroke-width="1.5"/>
<text transform="translate(1016.64 1328.00) scale(0.91 1)" font-size="23.4" text-anchor="middle" fill="#000" stroke="#000" stroke-width="0.25">Nov-15</text>
<line x1="96.3" y1="705.8" x2="102" y2="705.8" stroke="#111111" stroke-width="1.5"/>
<text transform="translate(90.60 714.20) scale(0.91 1)" font-size="23.4" text-anchor="end" fill="#000" stroke="#000" stroke-width="0.25">2.10</text>
<line x1="96.3" y1="794.6" x2="102" y2="794.6" stroke="#111111" stroke-width="1.5"/>
<text transform="translate(90.60 803.00) scale(0.91 1)" font-size="23.4" text-anchor="end" fill="#000" stroke="#000" stroke-width="0.25">2.05</text>
<line x1="96.3" y1="883.4" x2="102" y2="883.4" stroke="#111111" stroke-width="1.5"/>
<text transform="translate(90.60 891.80) scale(0.91 1)" font-size="23.4" text-anchor="end" fill="#000" stroke="#000" stroke-width="0.25">2.00</text>
<line x1="96.3" y1="971.5" x2="102" y2="971.5" stroke="#111111" stroke-width="1.5"/>
<text transform="translate(90.60 979.90) scale(0.91 1)" font-size="23.4" text-anchor="end" fill="#000" stroke="#000" stroke-width="0.25">1.95</text>
<line x1="96.3" y1="1060.0" x2="102" y2="1060.0" stroke="#111111" stroke-width="1.5"/>
<text transform="translate(90.60 1068.40) scale(0.91 1)" font-size="23.4" text-anchor="end" fill="#000" stroke="#000" stroke-width="0.25">1.90</text>
<line x1="96.3" y1="1148.5" x2="102" y2="1148.5" stroke="#111111" stroke-width="1.5"/>
<text transform="translate(90.60 1156.90) scale(0.91 1)" font-size="23.4" text-anchor="end" fill="#000" stroke="#000" stroke-width="0.25">1.85</text>
<line x1="96.3" y1="1236.9" x2="102" y2="1236.9" stroke="#111111" stroke-width="1.5"/>
<text transform="translate(90.60 1245.30) scale(0.91 1)" font-size="23.4" text-anchor="end" fill="#000" stroke="#000" stroke-width="0.25">1.80</text>
<text transform="translate(26.50 997.00) rotate(-90)" font-size="34.4" text-anchor="middle" fill="#3f0a4c" stroke="#3f0a4c" stroke-width="0.3">CH<tspan font-size="24.1" dy="5.5">4</tspan><tspan dy="-5.5"> in ppm</tspan></text>
<text transform="translate(608.80 1365.30)" font-size="34.4" text-anchor="middle" fill="#0b0b66" stroke="#0b0b66" stroke-width="0.3">Date (mm-yy)</text>
<rect x="205" y="749.8" width="28.0" height="39.7" fill="#ccc76c" fill-opacity="0.55" stroke="#000" stroke-width="1.3"/>
<text transform="translate(219.00 777.55) scale(0.96 1)" font-size="27.6" text-anchor="middle" fill="#000" stroke="#000" stroke-width="0.2">c</text>
<rect x="922.6" y="703.4" width="185.1" height="122.0" rx="3.5" ry="3.5" fill="#fff" fill-opacity="0.8" stroke="#ababab" stroke-width="1.7"/>
<polyline points="928.7,715.6 959.7,715.6" fill="none" stroke-linecap="square" stroke="#f4000a" stroke-width="3.4"/>
<text transform="translate(972.50 721.25) scale(0.955 1)" font-size="16.2" text-anchor="start" fill="#000" stroke="#000" stroke-width="0.25">sng</text>
<circle cx="944.1" cy="739.9" r="15.9" fill="#9208a0" fill-opacity="0.5" stroke="#9208a0" stroke-opacity="0.62" stroke-width="1.3"/>
<polyline points="927.8,739.9 961.5,739.9" fill="none" stroke="#c03cd0" stroke-width="4.4" stroke-dasharray="5 7.8" stroke-opacity="0.85"/>
<text transform="translate(972.50 745.35) scale(0.955 1)" font-size="16.2" text-anchor="start" fill="#000" stroke="#000" stroke-width="0.25">sng weekly flask</text>
<polyline points="927.6,763.0 961.5,763.0" fill="none" stroke="#143f0c" stroke-width="1.9" stroke-dasharray="1.9 3.1"/>
<text transform="translate(972.50 768.65) scale(0.955 1)" font-size="16.2" text-anchor="start" fill="#000" stroke="#000" stroke-width="0.25">sey</text>
<polyline points="928.4,786.8 934.8,786.8" fill="none" stroke="#123c6a" stroke-width="2.0"/>
<polyline points="953.8,786.8 959.6,786.8" fill="none" stroke="#123c6a" stroke-width="2.0"/>
<rect x="938.6" y="781.1" width="11.7" height="11.7" fill="#fff" stroke="#000" stroke-width="1.8"/>
<text transform="translate(972.50 792.45) scale(0.955 1)" font-size="16.2" text-anchor="start" fill="#000" stroke="#000" stroke-width="0.25">mlo</text>
<polyline points="928.7,810.2 959.7,810.2" fill="none" stroke-linecap="square" stroke="#000" stroke-width="2.1"/>
<polygon points="944.1,801.5 952.9,807.9 949.6,818.3 938.6,818.3 935.3,807.9" stroke-linejoin="miter" fill="#fff" stroke="#000" stroke-width="1.8"/>
<text transform="translate(972.50 815.85) scale(0.955 1)" font-size="16.2" text-anchor="start" fill="#000" stroke="#000" stroke-width="0.25">cri</text>
<rect x="1220.0" y="29.5" width="300.2" height="42.1" fill="#b000b0" filter="url(#inner)"/>
<rect x="1299.0" y="114.5" width="302.4" height="42.1" fill="#00a5a5" filter="url(#inner)"/>
<rect x="1267.7" y="198.7" width="100.3" height="42.2" fill="#000000"/>
<rect x="1310.2" y="283.7" width="327.8" height="42.2" fill="#a5a500" filter="url(#inner)"/>
<rect x="1205.4" y="368.0" width="186.5" height="42.8" fill="#0000ff"/>
<rect x="1192.0" y="453.3" width="171.5" height="41.7" fill="#007a08" filter="url(#inner)"/>
<rect x="1276.0" y="537.6" width="54.7" height="42.4" fill="#ff0000"/>
<rect x="1192" y="2" width="468.8" height="606.0" fill="none" stroke="#111111" stroke-width="1.55"/>
<line x1="1660.8" y1="2" x2="1666.5" y2="2" stroke="#111111" stroke-width="1.55"/>
<line x1="1186.3" y1="50.5" x2="1192" y2="50.5" stroke="#111111" stroke-width="1.5"/>
<text transform="translate(1180.60 58.95) scale(0.91 1)" font-size="23.4" text-anchor="end" fill="#000" stroke="#000" stroke-width="0.25">knp</text>
<line x1="1186.3" y1="135.6" x2="1192" y2="135.6" stroke="#111111" stroke-width="1.5"/>
<text transform="translate(1180.60 143.95) scale(0.91 1)" font-size="23.4" text-anchor="end" fill="#000" stroke="#000" stroke-width="0.25">amd</text>
<line x1="1186.3" y1="219.8" x2="1192" y2="219.8" stroke="#111111" stroke-width="1.5"/>
<text transform="translate(1180.60 228.20) scale(0.91 1)" font-size="23.4" text-anchor="end" fill="#000" stroke="#000" stroke-width="0.25">mlo</text>
<line x1="1186.3" y1="304.8" x2="1192" y2="304.8" stroke="#111111" stroke-width="1.5"/>
<text transform="translate(1180.60 313.20) scale(0.91 1)" font-size="23.4" text-anchor="end" fill="#000" stroke="#000" stroke-width="0.25">sng</text>
<line x1="1186.3" y1="389.4" x2="1192" y2="389.4" stroke="#111111" stroke-width="1.5"/>
<text transform="translate(1180.60 397.80) scale(0.91 1)" font-size="23.4" text-anchor="end" fill="#000" stroke="#000" stroke-width="0.25">sad</text>
<line x1="1186.3" y1="474.1" x2="1192" y2="474.1" stroke="#111111" stroke-width="1.5"/>
<text transform="translate(1180.60 482.55) scale(0.91 1)" font-size="23.4" text-anchor="end" fill="#000" stroke="#000" stroke-width="0.25">cri</text>
<line x1="1186.3" y1="558.8" x2="1192" y2="558.8" stroke="#111111" stroke-width="1.5"/>
<text transform="translate(1180.60 567.20) scale(0.91 1)" font-size="23.4" text-anchor="end" fill="#000" stroke="#000" stroke-width="0.25">sey</text>
<line x1="1205.4" y1="608.0" x2="1205.4" y2="613.7" stroke="#111111" stroke-width="1.5"/>
<text transform="translate(1205.10 635.70) scale(0.91 1)" font-size="23.4" text-anchor="middle" fill="#000" stroke="#000" stroke-width="0.25">390</text>
<line x1="1321.8" y1="608.0" x2="1321.8" y2="613.7" stroke="#111111" stroke-width="1.5"/>
<text transform="translate(1321.50 635.70) scale(0.91 1)" font-size="23.4" text-anchor="middle" fill="#000" stroke="#000" stroke-width="0.25">400</text>
<line x1="1438.5" y1="608.0" x2="1438.5" y2="613.7" stroke="#111111" stroke-width="1.5"/>
<text transform="translate(1438.20 635.70) scale(0.91 1)" font-size="23.4" text-anchor="middle" fill="#000" stroke="#000" stroke-width="0.25">410</text>
<line x1="1554.8" y1="608.0" x2="1554.8" y2="613.7" stroke="#111111" stroke-width="1.5"/>
<text transform="translate(1554.50 635.70) scale(0.91 1)" font-size="23.4" text-anchor="middle" fill="#000" stroke="#000" stroke-width="0.25">420</text>
<line x1="1660.8" y1="63.9" x2="1666.5" y2="63.9" stroke="#111111" stroke-width="1.5"/>
<text transform="translate(1672.10 72.70) scale(0.92 1)" font-size="23.4" text-anchor="start" fill="#800080" stroke="#800080" stroke-width="0.25">26.57</text>
<line x1="1660.8" y1="141.7" x2="1666.5" y2="141.7" stroke="#111111" stroke-width="1.5"/>
<text transform="translate(1672.10 150.50) scale(0.92 1)" font-size="23.4" text-anchor="start" fill="#008080" stroke="#008080" stroke-width="0.25">23.03</text>
<line x1="1660.8" y1="218.7" x2="1666.5" y2="218.7" stroke="#111111" stroke-width="1.5"/>
<text transform="translate(1672.10 227.50) scale(0.92 1)" font-size="23.4" text-anchor="start" fill="#000" stroke="#000" stroke-width="0.25">19.47</text>
<line x1="1660.8" y1="312.4" x2="1666.5" y2="312.4" stroke="#111111" stroke-width="1.5"/>
<text transform="translate(1672.10 321.20) scale(0.92 1)" font-size="23.4" text-anchor="start" fill="#808000" stroke="#808000" stroke-width="0.25">18.36</text>
<line x1="1660.8" y1="406.0" x2="1666.5" y2="406.0" stroke="#111111" stroke-width="1.5"/>
<text transform="translate(1672.10 414.80) scale(0.92 1)" font-size="23.4" text-anchor="start" fill="#0000f4" stroke="#0000f4" stroke-width="0.25">17.0</text>
<line x1="1660.8" y1="491.7" x2="1666.5" y2="491.7" stroke="#111111" stroke-width="1.5"/>
<text transform="translate(1672.10 500.50) scale(0.92 1)" font-size="23.4" text-anchor="start" fill="#0a300a" stroke="#0a300a" stroke-width="0.25">15.08</text>
<line x1="1660.8" y1="568.6" x2="1666.5" y2="568.6" stroke="#111111" stroke-width="1.5"/>
<text transform="translate(1672.10 577.40) scale(0.92 1)" font-size="23.4" text-anchor="start" fill="#ee0000" stroke="#ee0000" stroke-width="0.25">-4.67</text>
<text transform="translate(1426.90 666.50) scale(0.925 1)" font-size="27.1" text-anchor="middle" fill="#000" stroke="#000" stroke-width="0.25">CO<tspan font-size="19" dy="3.9">2</tspan><tspan dy="-3.9"> (ppm)</tspan></text>
<text transform="translate(1747.00 302.80) rotate(90) scale(1.03 1)" font-size="27.2" text-anchor="middle" fill="#000" stroke="#000" stroke-width="0.25">Latitude</text>
<rect x="1548.5" y="107.8" width="31.3" height="39.9" fill="#ccc76c" fill-opacity="0.55" stroke="#000" stroke-width="1.3"/>
<text transform="translate(1564.15 135.65) scale(0.96 1)" font-size="27.6" text-anchor="middle" fill="#000" stroke="#000" stroke-width="0.2">b</text>
<rect x="1260.6" y="722.9" width="83.2" height="60.4" fill="#000000"/>
<rect x="1330.7" y="844.8" width="303.5" height="61.2" fill="#a5a500" filter="url(#inner)"/>
<rect x="1221.9" y="967.5" width="416.1" height="60.5" fill="#0000ff"/>
<rect x="1192.0" y="1089.5" width="291.2" height="61.2" fill="#007a08" filter="url(#inner)"/>
<rect x="1196.9" y="1212.2" width="132.0" height="60.8" fill="#ff0000"/>
<rect x="1192" y="695.2" width="468.8" height="605.7" fill="none" stroke="#111111" stroke-width="1.55"/>
<line x1="1186.3" y1="753.1" x2="1192" y2="753.1" stroke="#111111" stroke-width="1.5"/>
<text transform="translate(1180.60 761.50) scale(0.91 1)" font-size="23.4" text-anchor="end" fill="#000" stroke="#000" stroke-width="0.25">mlo</text>
<line x1="1186.3" y1="875.4" x2="1192" y2="875.4" stroke="#111111" stroke-width="1.5"/>
<text transform="translate(1180.60 883.80) scale(0.91 1)" font-size="23.4" text-anchor="end" fill="#000" stroke="#000" stroke-width="0.25">sng</text>
<line x1="1186.3" y1="997.8" x2="1192" y2="997.8" stroke="#111111" stroke-width="1.5"/>
<text transform="translate(1180.60 1006.15) scale(0.91 1)" font-size="23.4" text-anchor="end" fill="#000" stroke="#000" stroke-width="0.25">sad</text>
<line x1="1186.3" y1="1120.1" x2="1192" y2="1120.1" stroke="#111111" stroke-width="1.5"/>
<text transform="translate(1180.60 1128.50) scale(0.91 1)" font-size="23.4" text-anchor="end" fill="#000" stroke="#000" stroke-width="0.25">cri</text>
<line x1="1186.3" y1="1242.6" x2="1192" y2="1242.6" stroke="#111111" stroke-width="1.5"/>
<text transform="translate(1180.60 1251.00) scale(0.91 1)" font-size="23.4" text-anchor="end" fill="#000" stroke="#000" stroke-width="0.25">sey</text>
<line x1="1221.5" y1="1300.9" x2="1221.5" y2="1306.6000000000001" stroke="#111111" stroke-width="1.5"/>
<text transform="translate(1221.20 1328.50) scale(0.91 1)" font-size="23.4" text-anchor="middle" fill="#000" stroke="#000" stroke-width="0.25">1.80</text>
<line x1="1308.4" y1="1300.9" x2="1308.4" y2="1306.6000000000001" stroke="#111111" stroke-width="1.5"/>
<text transform="translate(1308.10 1328.50) scale(0.91 1)" font-size="23.4" text-anchor="middle" fill="#000" stroke="#000" stroke-width="0.25">1.85</text>
<line x1="1395.2" y1="1300.9" x2="1395.2" y2="1306.6000000000001" stroke="#111111" stroke-width="1.5"/>
<text transform="translate(1394.90 1328.50) scale(0.91 1)" font-size="23.4" text-anchor="middle" fill="#000" stroke="#000" stroke-width="0.25">1.90</text>
<line x1="1482.1" y1="1300.9" x2="1482.1" y2="1306.6000000000001" stroke="#111111" stroke-width="1.5"/>
<text transform="translate(1481.80 1328.50) scale(0.91 1)" font-size="23.4" text-anchor="middle" fill="#000" stroke="#000" stroke-width="0.25">1.95</text>
<line x1="1569.0" y1="1300.9" x2="1569.0" y2="1306.6000000000001" stroke="#111111" stroke-width="1.5"/>
<text transform="translate(1568.70 1328.50) scale(0.91 1)" font-size="23.4" text-anchor="middle" fill="#000" stroke="#000" stroke-width="0.25">2.00</text>
<line x1="1655.9" y1="1300.9" x2="1655.9" y2="1306.6000000000001" stroke="#111111" stroke-width="1.5"/>
<text transform="translate(1655.60 1328.50) scale(0.91 1)" font-size="23.4" text-anchor="middle" fill="#000" stroke="#000" stroke-width="0.25">2.05</text>
<line x1="1660.8" y1="743.4" x2="1666.5" y2="743.4" stroke="#111111" stroke-width="1.5"/>
<text transform="translate(1672.10 752.20) scale(0.92 1)" font-size="23.4" text-anchor="start" fill="#000" stroke="#000" stroke-width="0.25">19.47</text>
<line x1="1660.8" y1="876.5" x2="1666.5" y2="876.5" stroke="#111111" stroke-width="1.5"/>
<text transform="translate(1672.10 885.30) scale(0.92 1)" font-size="23.4" text-anchor="start" fill="#808000" stroke="#808000" stroke-width="0.25">18.36</text>
<line x1="1660.8" y1="985.7" x2="1666.5" y2="985.7" stroke="#111111" stroke-width="1.5"/>
<text transform="translate(1672.10 994.50) scale(0.92 1)" font-size="23.4" text-anchor="start" fill="#0000f4" stroke="#0000f4" stroke-width="0.25">17.0</text>
<line x1="1660.8" y1="1119.0" x2="1666.5" y2="1119.0" stroke="#111111" stroke-width="1.5"/>
<text transform="translate(1672.10 1127.80) scale(0.92 1)" font-size="23.4" text-anchor="start" fill="#0a300a" stroke="#0a300a" stroke-width="0.25">15.08</text>
<line x1="1660.8" y1="1240.5" x2="1666.5" y2="1240.5" stroke="#111111" stroke-width="1.5"/>
<text transform="translate(1672.10 1249.30) scale(0.92 1)" font-size="23.4" text-anchor="start" fill="#ee0000" stroke="#ee0000" stroke-width="0.25">-4.67</text>
<text transform="translate(1426.90 1360.00) scale(0.925 1)" font-size="27.1" text-anchor="middle" fill="#000" stroke="#000" stroke-width="0.25">CH<tspan font-size="19" dy="3.9">4</tspan><tspan dy="-3.9"> (ppm)</tspan></text>
<text transform="translate(1747.00 996.40) rotate(90) scale(1.03 1)" font-size="27.2" text-anchor="middle" fill="#000" stroke="#000" stroke-width="0.25">Latitude</text>
<rect x="1562.3" y="847.4" width="31.7" height="40.3" fill="#ccc76c" fill-opacity="0.55" stroke="#000" stroke-width="1.3"/>
<text transform="translate(1578.15 875.45) scale(0.96 1)" font-size="27.6" text-anchor="middle" fill="#000" stroke="#000" stroke-width="0.2">d</text>
</svg>
</body>
</html>
